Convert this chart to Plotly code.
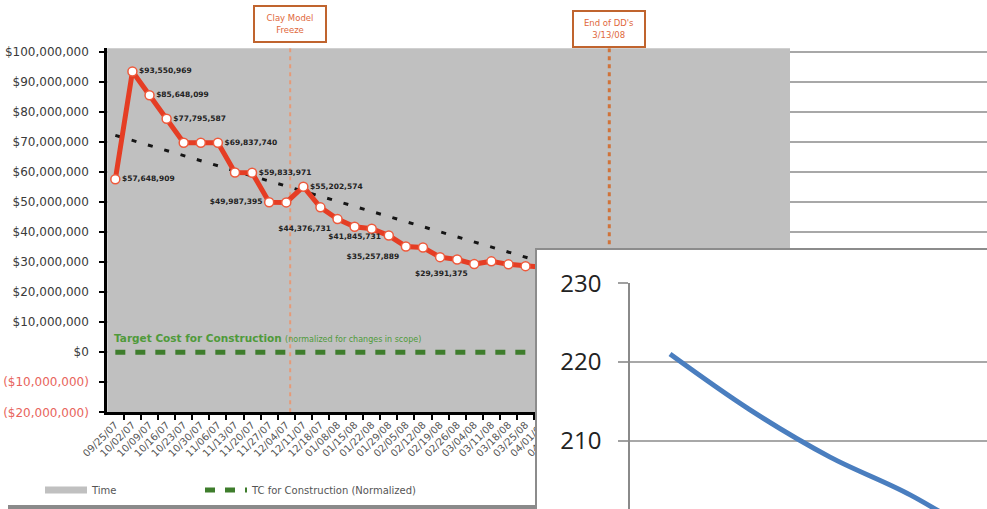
import plotly.graph_objects as go

# Weekly design-review dates on the cost chart's horizontal axis
dates = [
    "09/25/07", "10/02/07", "10/09/07", "10/16/07", "10/23/07", "10/30/07",
    "11/06/07", "11/13/07", "11/20/07", "11/27/07", "12/04/07", "12/11/07",
    "12/18/07", "01/08/08", "01/15/08", "01/22/08", "01/29/08", "02/05/08",
    "02/12/08", "02/19/08", "02/26/08", "03/04/08", "03/11/08", "03/18/08",
    "03/25/08", "04/01/08", "04/08/08", "04/15/08", "04/22/08", "04/29/08",
    "05/06/08", "05/13/08", "05/20/08", "05/27/08", "06/03/08", "06/10/08",
    "06/17/08", "06/24/08", "07/01/08", "07/08/08",
]

# Estimated construction cost at each review
estimate = [
    57648909, 93550969, 85648099, 77795587, 69850000, 69840000, 69837740,
    59900000, 59833971, 49987395, 49950000, 55202574, 48300000, 44376731,
    41845731, 41150000, 38900000, 35257889, 34900000, 31700000, 30900000,
    29391375, 30300000, 29300000, 28700000, 28300000,
]

# Reviews whose estimate is printed next to the point
labelled = {0: "middle right", 1: "middle right", 2: "middle right",
            3: "middle right", 6: "middle right", 8: "middle right",
            9: "middle left", 11: "middle right", 13: "bottom left",
            14: "bottom center", 17: "bottom left", 21: "bottom left"}

# Linear trend of the estimate (start and end of the fitted line)
trend_index = [0, 25]
trend_value = [72300000, 30000000]

# Target cost for construction, normalized for scope changes
tc_normalized = [0] * len(dates)

# Milestones marked on the timeline (position in review weeks)
milestones = ["Clay Model<br>Freeze", "End of DD's<br>3/13/08"]
milestone_pos = [10.23, 28.9]
milestone_box_y = [24, 29]

# Vertical extent of the cost axis
cost_min, cost_max = -20000000, 101300000
cost_ticks = list(range(-20000000, 100000001, 10000000))

# Index chart
index_x = [0, 1, 2, 3, 4]
index_y = [221.0, 213.9, 207.9, 203.1, 197.0]
index_ticks = [200, 210, 220, 230]

W, H = 987, 509
FONT = "DejaVu Sans"
TIME_GREY = "#c0c0c0"


def money(v):
    if v < 0:
        return f"<span style='color:#e8645c'>(${-v:,.0f})</span>"
    return f"${v:,.0f}"


def px_x(p):
    return p / W


def px_y(p):
    return 1 - p / H


n = len(dates)
weeks = list(range(n))
est_x = list(range(len(estimate)))

fig = go.Figure()

# "Time" band: grey columns behind the whole review period
fig.add_bar(
    x=weeks, y=[cost_max - cost_min] * n, base=cost_min, width=1,
    marker=dict(color=TIME_GREY, line=dict(width=0)),
    name="Time", legendgroup="time", showlegend=False, hoverinfo="skip",
)
# legend key for the band, drawn as a wide grey stroke
fig.add_scatter(
    x=[None], y=[None], mode="lines", line=dict(color=TIME_GREY, width=7),
    name="Time", legendgroup="time", legend="legend", hoverinfo="skip",
)

# Target cost line at $0
fig.add_scatter(
    x=weeks, y=tc_normalized, mode="lines",
    line=dict(color="#3e7d2c", width=5, dash="10px,10px"),
    name="TC for Construction (Normalized)", legend="legend2",
)

# Milestone lines
for name, pos, col, wd in zip(milestones, milestone_pos,
                              ["#e59a78", "#d0733a"], [2, 3]):
    fig.add_scatter(
        x=[pos, pos], y=[cost_min, cost_max], mode="lines",
        line=dict(color=col, width=wd, dash="4px,4px"),
        showlegend=False, hoverinfo="skip",
    )

# Trend of the estimate
fig.add_scatter(
    x=trend_index, y=trend_value, mode="lines",
    line=dict(color="#151515", width=3, dash="5px,12px"),
    showlegend=False,
)

# Estimate with value labels
fig.add_scatter(
    x=est_x, y=estimate, mode="lines+markers+text",
    line=dict(color="#e53d24", width=5),
    marker=dict(size=9, color="white", line=dict(color="#ee5a3c", width=1.5)),
    text=[money(v) if i in labelled else "" for i, v in enumerate(estimate)],
    textposition=[labelled.get(i, "middle right") for i in range(len(estimate))],
    textfont=dict(family=FONT, size=7.5, color="#222222", weight="bold"),
    showlegend=False, cliponaxis=False,
)

# White panel that holds the index chart (frame only, no data)
fig.add_scatter(x=[], y=[], xaxis="x2", yaxis="y2", showlegend=False,
                hoverinfo="skip")

# Index chart drawn over the lower right
fig.add_scatter(
    x=index_x, y=index_y, mode="lines", xaxis="x3", yaxis="y3",
    line=dict(color="#4a7ebf", width=5, shape="spline"),
    showlegend=False,
)

legend_style = dict(orientation="h", y=px_y(490), xanchor="left",
                    yanchor="middle", font=dict(size=10, color="#555555"),
                    bgcolor="rgba(0,0,0,0)", itemwidth=42)

fig.update_layout(
    width=W, height=H,
    margin=dict(l=0, r=0, t=0, b=0, autoexpand=False),
    paper_bgcolor="white", plot_bgcolor="white",
    font=dict(family=FONT, color="#404040"),
    bargap=0,
    xaxis=dict(
        domain=[px_x(107.3), 1], range=[-0.47, 51.0], automargin=False,
        tickvals=weeks, ticktext=dates, tickangle=-45,
        tickfont=dict(size=10, color="#555555"), ticks="",
        minor=dict(tick0=-0.5, dtick=1, ticks="outside", ticklen=5,
                   tickwidth=2, tickcolor="black"),
        showline=True, linecolor="black", linewidth=3,
        showgrid=False, zeroline=False,
    ),
    yaxis=dict(
        domain=[px_y(412.3), px_y(48.3)], range=[cost_min, cost_max],
        automargin=False,
        tickvals=cost_ticks, ticktext=[money(v) for v in cost_ticks],
        tickfont=dict(size=12, color="#3a3a3a"),
        ticks="outside", ticklen=5, tickwidth=2, tickcolor="black",
        ticklabelstandoff=8,
        showline=True, linecolor="black", linewidth=3,
        showgrid=True, gridcolor="#a8a8a8", gridwidth=1.5, zeroline=False,
    ),
    # white panel framing the index chart
    xaxis2=dict(domain=[px_x(537), 1], anchor="y2", range=[0, 1],
                automargin=False,
                showline=True, side="top", linecolor="#8c8c8c", linewidth=2,
                showgrid=False, zeroline=False, showticklabels=False, ticks=""),
    yaxis2=dict(domain=[0, px_y(250)], anchor="x2", range=[0, 1],
                automargin=False,
                showline=True, linecolor="#8c8c8c", linewidth=2,
                showgrid=False, zeroline=False, showticklabels=False, ticks=""),
    xaxis3=dict(domain=[px_x(630), 1], anchor="y3", range=[-0.5, 3.96],
                automargin=False,
                showline=False, showgrid=False, zeroline=False,
                showticklabels=False, ticks=""),
    yaxis3=dict(domain=[0, px_y(283.3)], anchor="x3", range=[201.3, 230],
                automargin=False,
                tickvals=index_ticks,
                tickfont=dict(family="Open Sans", size=24, color="#222222"),
                ticks="outside", ticklen=10, tickcolor="#a0a0a0", tickwidth=1.5,
                ticklabelstandoff=12,
                showline=True, linecolor="#8a8a8a", linewidth=1.5,
                showgrid=True, gridcolor="#a8a8a8", gridwidth=1.5,
                zeroline=False),
    legend=dict(x=px_x(40), **legend_style),
    legend2=dict(x=px_x(200), **legend_style),
    showlegend=True,
)

# Milestone call-out boxes
for name, pos, by in zip(milestones, milestone_pos, milestone_box_y):
    fig.add_annotation(
        x=pos, xref="x", y=px_y(by), yref="paper", yanchor="middle",
        text=name, showarrow=False, font=dict(size=8.5, color="#e0683c"),
        bgcolor="white", bordercolor="#c0642e", borderwidth=2, borderpad=2,
        width=66, height=30,
    )

# Target cost caption above the $0 line
fig.add_annotation(
    x=-0.2, xref="x", y=4900000, yref="y", xanchor="left",
    text="<b>Target Cost for Construction</b> "
         "<span style='font-size:8px'>(normalized for changes in scope)</span>",
    showarrow=False, font=dict(size=10.5, color="#4f9a3a"),
)

# Chart frame bottom edge
fig.add_shape(type="line", xref="paper", yref="paper",
              x0=px_x(8), x1=1, y0=px_y(507), y1=px_y(507),
              line=dict(color="#8a8a8a", width=4), layer="below")

fig.write_html("out.html")
